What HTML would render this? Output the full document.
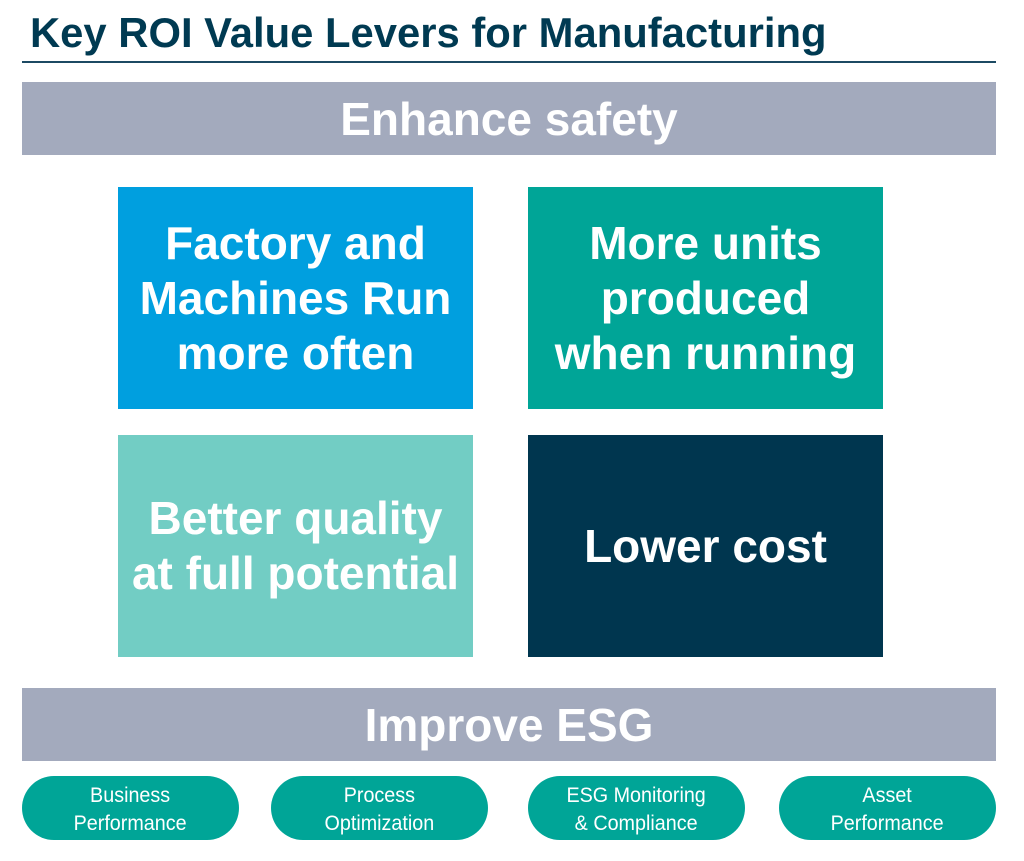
<!DOCTYPE html>
<html><head><meta charset="utf-8"><style>
body{margin:0;width:1024px;height:861px;background:#fff;position:relative;font-family:"Liberation Sans",Arial,sans-serif;overflow:hidden}
.a{position:absolute}
.title{left:30px;top:9px;font-size:42px;font-weight:bold;color:#003a52;white-space:nowrap;transform:scaleX(0.995);transform-origin:left top}
.rule{left:22px;top:61px;width:974px;height:2px;background:#1c4a63}
.bar{left:22px;width:974px;height:73px;background:#a3aabd;color:#fff;font-weight:bold;font-size:46px;display:flex;align-items:center;justify-content:center}
.box{width:355px;height:222px;color:#fff;font-weight:bold;font-size:46px;line-height:55px;display:flex;align-items:center;justify-content:center;text-align:center}
.pill{top:776px;width:217px;height:64px;border-radius:32px;background:#00a597;color:#fff;font-size:21px;line-height:28px;display:flex;align-items:center;justify-content:center;text-align:center}
.pill span{display:inline-block;transform:scaleX(0.94);padding-top:3px}
</style></head><body>
<div class="a title">Key ROI Value Levers for Manufacturing</div>
<div class="a rule"></div>
<div class="a bar" style="top:82px">Enhance safety</div>
<div class="a box" style="left:118px;top:187px;background:#009fdf">Factory and<br>Machines Run<br>more often</div>
<div class="a box" style="left:528px;top:187px;background:#00a597">More units<br>produced<br>when running</div>
<div class="a box" style="left:118px;top:435px;background:#72cdc4">Better quality<br>at full potential</div>
<div class="a box" style="left:528px;top:435px;background:#00364f">Lower cost</div>
<div class="a bar" style="top:688px">Improve ESG</div>
<div class="a pill" style="left:22px"><span>Business<br>Performance</span></div>
<div class="a pill" style="left:271px"><span>Process<br>Optimization</span></div>
<div class="a pill" style="left:528px"><span>ESG Monitoring<br>&amp; Compliance</span></div>
<div class="a pill" style="left:779px"><span>Asset<br>Performance</span></div>
</body></html>
